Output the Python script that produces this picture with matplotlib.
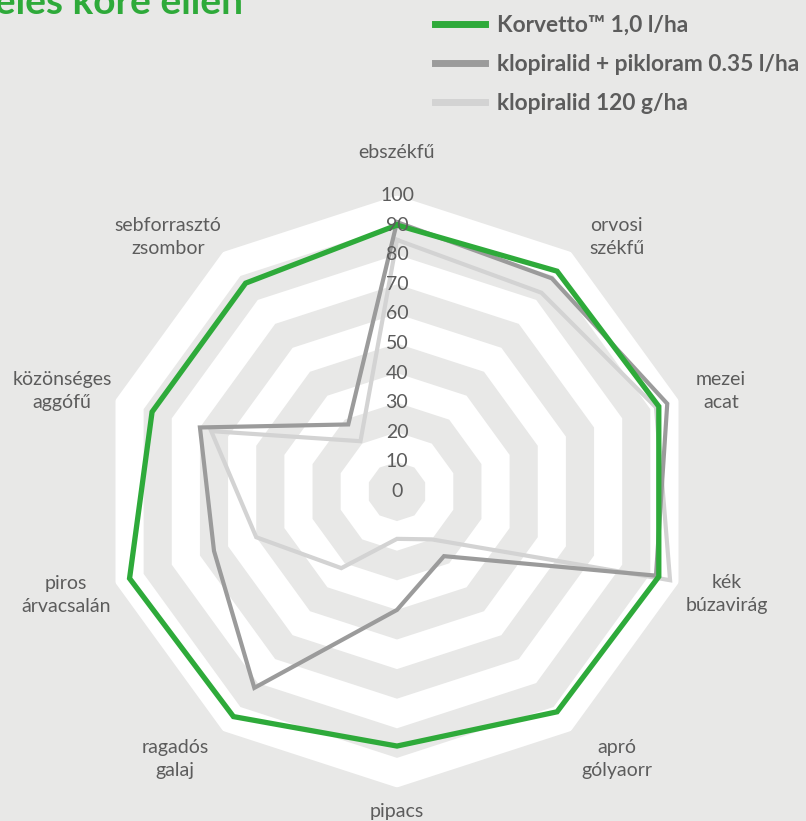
import numpy as np
import matplotlib.pyplot as plt

plt.rcParams['font.family'] = ['Lato', 'DejaVu Sans']

categories = ['ebszékfű', 'orvosi\nszékfű', 'mezei\nacat', 'kék\nbúzavirág', 'apró\ngólyaorr',
              'pipacs', 'ragadós\ngalaj', 'piros\nárvacsalán', 'közönséges\naggófű',
              'sebforrasztó\nzsombor']
series_names = ['Korvetto™ 1,0 l/ha', 'klopiralid + pikloram 0.35 l/ha', 'klopiralid 120 g/ha']
korvetto = [90, 92, 93, 93, 92, 86, 94, 95, 87, 87]
klopi_pikloram = [91, 89, 96, 92, 27, 40, 82, 65, 70, 28]
klopiralid = [85, 83, 92, 97, 20, 16, 32, 50, 66, 21]
ticks = [0, 10, 20, 30, 40, 50, 60, 70, 80, 90, 100]

BG = '#e8e8e7'
GREEN = '#2eaa3a'
DARK = '#9b9b9b'
LIGHT = '#d3d3d3'
TXT = '#5c5c5c'

fig = plt.figure(figsize=(8.06, 8.21), dpi=100, facecolor=BG)
ax = fig.add_axes([0.1253, 0.0408, 0.7345, 0.7211], projection='polar')
ax.set_facecolor(BG)
ax.set_theta_offset(np.pi / 2)
ax.set_theta_direction(-1)
ax.set_ylim(0, 100)
ax.grid(False)
ax.spines['polar'].set_visible(False)
ax.set_xticks([])
ax.set_yticks([])

n = len(categories)
ang = np.linspace(0, 2 * np.pi, n, endpoint=False)
ang_c = np.append(ang, ang[0])

# decagon bands, white and grey alternating
for i, r in enumerate(ticks[:0:-1]):
    ax.fill(ang_c, [r] * (n + 1), color='white' if i % 2 == 0 else BG, lw=0, zorder=1)

for vals, col, lw in [(klopiralid, LIGHT, 3.0), (klopi_pikloram, DARK, 3.0), (korvetto, GREEN, 3.8)]:
    ax.plot(ang_c, vals + vals[:1], color=col, lw=lw, solid_joinstyle='miter', zorder=3)

for t in ticks:
    ax.text(0, t, str(t), ha='center', va='center', fontsize=14, color=TXT, zorder=4)

# category labels sit a little off their spokes, pushed sideways
label_pos = [(0, 114.4), (40.8, 113.6), (72.8, 114.6), (107.3, 116.7), (140.6, 117),
             (180, 108), (219.7, 117.4), (252.6, 117.2), (286.7, 118.2), (318, 115.7)]
for lab, (deg, r) in zip(categories, label_pos):
    ax.text(np.deg2rad(deg), r, lab, ha='center', va='center', fontsize=14, color=TXT,
            linespacing=1.45)

handles = [plt.Line2D([], [], color=c, lw=w) for c, w in [(GREEN, 5), (DARK, 5), (LIGHT, 5)]]
leg = fig.legend(handles, series_names, loc='upper left', bbox_to_anchor=(435 / 806, 1 - 15 / 821),
                 frameon=False, borderpad=0, borderaxespad=0, handlelength=2.2,
                 handletextpad=0.5, labelspacing=0.8,
                 prop={'size': 16.4, 'weight': 'bold'})
for t in leg.get_texts():
    t.set_color(TXT)

fig.text(243 / 806, 1 - 14 / 821, 'széles köre ellen', ha='right', va='baseline',
         fontsize=28, fontweight='bold', color=GREEN)

fig.savefig('out.png', dpi=100, facecolor=BG)
